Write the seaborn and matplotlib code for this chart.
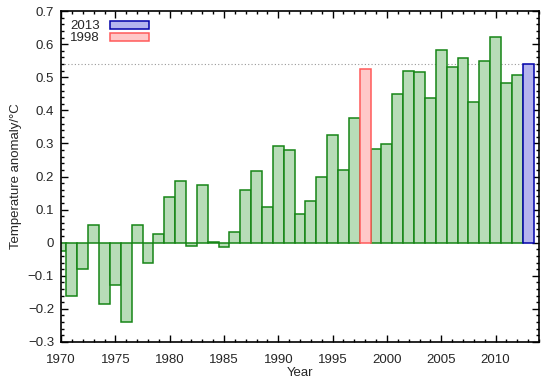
import numpy as np
import pandas as pd
import matplotlib
matplotlib.use('Agg')
import matplotlib.pyplot as plt
from matplotlib.ticker import MultipleLocator
from matplotlib.patches import Patch
import seaborn as sns

# yearly temperature anomaly (deg C)
years = list(range(1970, 2014))
anomaly = [-0.024, -0.160, -0.081, 0.054, -0.186, -0.129, -0.240, 0.054, -0.060, 0.027,
           0.137, 0.185, -0.011, 0.173, 0.001, -0.012, 0.032, 0.160, 0.218, 0.107,
           0.291, 0.280, 0.086, 0.127, 0.198, 0.327, 0.219, 0.378, 0.525, 0.283,
           0.297, 0.450, 0.518, 0.516, 0.438, 0.583, 0.530, 0.557, 0.424, 0.548,
           0.622, 0.482, 0.507, 0.539]
highlight = {2013: 'blue', 1998: 'red'}
ref_level = 0.539

df = pd.DataFrame({'year': years, 'anomaly': anomaly})
rest = df[~df['year'].isin(list(highlight))]
y1998 = df[df['year'] == 1998]
y2013 = df[df['year'] == 2013]

sns.set_style('ticks')
plt.rcParams['font.family'] = ['Liberation Sans', 'DejaVu Sans']

fig, ax = plt.subplots(figsize=(5.5, 3.85), dpi=100)
fig.subplots_adjust(left=0.111, right=0.98, top=0.971, bottom=0.112)

ax.axhline(ref_level, color='#999999', lw=0.8, ls=(0, (1, 2)), zorder=0)

sns.barplot(data=rest, x='year', y='anomaly', native_scale=True, width=1,
            color='#b8dcb8', saturation=1, edgecolor='#168516', linewidth=1.1,
            errorbar=None, ax=ax)
sns.barplot(data=y1998, x='year', y='anomaly', native_scale=True, width=1,
            color='#ffc8c8', saturation=1, edgecolor='#ff5a5a', linewidth=1.1,
            errorbar=None, ax=ax)
sns.barplot(data=y2013, x='year', y='anomaly', native_scale=True, width=1,
            color='#b4b4ee', saturation=1, edgecolor='#0000aa', linewidth=1.1,
            errorbar=None, ax=ax)

ax.set_xlim(1970, 2014)
ax.set_ylim(-0.3, 0.7)
ax.xaxis.set_major_locator(MultipleLocator(5))
ax.xaxis.set_minor_locator(MultipleLocator(1))
ax.yaxis.set_major_locator(MultipleLocator(0.1))
ax.yaxis.set_minor_locator(MultipleLocator(0.02))
ax.yaxis.set_major_formatter(lambda v, p: '0' if abs(v) < 1e-9 else f'{v:.1f}'.replace('-', '\u2212'))
ax.tick_params(which='both', direction='in', top=True, right=True, labelsize=9.5, color='black')
ax.tick_params(which='major', length=5, width=1)
ax.tick_params(which='minor', length=2.5, width=1)
ax.tick_params(axis='x', which='major', pad=8.5)
ax.tick_params(axis='y', which='major', pad=5)
for s in ax.spines.values():
    s.set_linewidth(1.2)
    s.set_color('black')

ax.set_xlabel('Year', fontsize=9.5, labelpad=1)
ax.set_ylabel('Temperature anomaly/\u00b0C', fontsize=9.5, labelpad=4)

handles = [Patch(facecolor='#b4b4ee', edgecolor='#0000aa', lw=1.1),
           Patch(facecolor='#ffc8c8', edgecolor='#ff5a5a', lw=1.1)]
ax.legend(handles, ['2013', '1998'], loc='upper left', markerfirst=False, frameon=False,
          fontsize=9.5, handlelength=2.9, handleheight=0.6, handletextpad=0.8,
          labelspacing=0.0, borderaxespad=0.3, borderpad=0.4,
          bbox_to_anchor=(0.0, 1.0))

fig.savefig('out.png', dpi=100)
